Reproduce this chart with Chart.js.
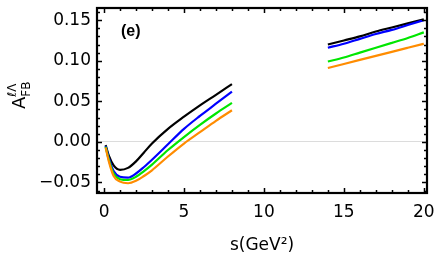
<!DOCTYPE html>
<html>
<head>
<meta charset="utf-8">
<script src="https://cdn.jsdelivr.net/npm/chart.js@4"></script>
<style>
  html, body { margin: 0; padding: 0; background: #fff; }
  canvas { display: block; }
</style>
</head>
<body>
<canvas id="chart" width="436" height="262"></canvas>
<script>
// s values (GeV^2) below and above the charmonium gap
const S_LOW = [0.1, 0.3, 0.6, 1, 1.5, 2, 2.5, 3, 4, 5, 6, 7, 8];
const S_HIGH = [14, 15, 16, 17, 18, 19, 20];

// curves
const BLACK_LOW  = [-0.004, -0.017, -0.029, -0.0345, -0.032, -0.024, -0.013, -0.002, 0.016, 0.031, 0.045, 0.058, 0.0712];
const BLUE_LOW   = [-0.005, -0.020, -0.036, -0.043, -0.044, -0.039, -0.031, -0.022, -0.003, 0.016, 0.032, 0.047, 0.062];
const GREEN_LOW  = [-0.006, -0.022, -0.039, -0.046, -0.047, -0.043, -0.036, -0.028, -0.010, 0.006, 0.021, 0.035, 0.048];
const ORANGE_LOW = [-0.007, -0.024, -0.042, -0.049, -0.051, -0.048, -0.042, -0.035, -0.018, -0.002, 0.012, 0.026, 0.039];

const BLACK_HIGH  = [0.120, 0.125, 0.130, 0.136, 0.141, 0.146, 0.151];
const BLUE_HIGH   = [0.116, 0.121, 0.127, 0.133, 0.138, 0.144, 0.150];
const GREEN_HIGH  = [0.099, 0.104, 0.110, 0.116, 0.122, 0.128, 0.135];
const ORANGE_HIGH = [0.091, 0.096, 0.101, 0.106, 0.111, 0.116, 0.121];

const X_TICKS = [0, 5, 10, 15, 20];
const Y_TICKS = [-0.05, 0, 0.05, 0.10, 0.15];

const FONT = 'DejaVu Sans';

function pts(xs, ys){ return xs.map((x, i) => ({x, y: ys[i]})); }

function line(xs, ys, color){
  return {
    data: pts(xs, ys),
    showLine: true,
    borderColor: color,
    borderWidth: 2.2,
    pointRadius: 0,
    cubicInterpolationMode: 'monotone',
    fill: false
  };
}

const datasets = [
  line(S_LOW, ORANGE_LOW, '#ff8c00'), line(S_HIGH, ORANGE_HIGH, '#ff8c00'),
  line(S_LOW, GREEN_LOW, '#00e600'),  line(S_HIGH, GREEN_HIGH, '#00e600'),
  line(S_LOW, BLUE_LOW, '#0000ff'),   line(S_HIGH, BLUE_HIGH, '#0000ff'),
  line(S_LOW, BLACK_LOW, '#000000'),  line(S_HIGH, BLACK_HIGH, '#000000')
];

// frame, inward ticks, panel label and y title
const framePlugin = {
  id: 'framePlugin',
  afterDraw(chart){
    const {ctx, chartArea: a, scales: {x, y}} = chart;
    ctx.save();
    ctx.strokeStyle = '#000';
    ctx.lineWidth = 1.5;
    ctx.beginPath();
    for (let v = 0; v <= 20; v++) {
      const px = Math.round(x.getPixelForValue(v)) + 0.5;
      const len = v % 5 === 0 ? 5 : 3;
      ctx.moveTo(px, a.bottom); ctx.lineTo(px, a.bottom - len);
      ctx.moveTo(px, a.top); ctx.lineTo(px, a.top + len);
    }
    for (let k = -6; k <= 16; k++) {
      const py = Math.round(y.getPixelForValue(k / 100)) + 0.5;
      const len = k % 5 === 0 ? 5 : 3;
      ctx.moveTo(a.left, py); ctx.lineTo(a.left + len, py);
      ctx.moveTo(a.right, py); ctx.lineTo(a.right - len, py);
    }
    ctx.stroke();

    ctx.lineWidth = 2.2;
    ctx.strokeRect(a.left, a.top, a.right - a.left, a.bottom - a.top);

    // panel label
    ctx.fillStyle = '#000';
    ctx.font = 'bold 16px "Liberation Sans"';
    ctx.textBaseline = 'middle';
    ctx.textAlign = 'left';
    ctx.fillText('(e)', 121, 32);

    // y title  A_FB^{ℓΛ}, rotated
    ctx.translate(25, 109);
    ctx.rotate(-Math.PI / 2);
    ctx.textBaseline = 'alphabetic';
    ctx.font = '18px ' + FONT;
    ctx.fillText('A', 0, 0);
    const w = ctx.measureText('A').width;
    ctx.font = '12px ' + FONT;
    ctx.fillText('FB', w, 5);
    ctx.fillText('ℓΛ', w, -9);
    ctx.restore();
  }
};

new Chart(document.getElementById('chart'), {
  type: 'scatter',
  data: { datasets },
  options: {
    responsive: false,
    animation: false,
    devicePixelRatio: 1,
    layout: { padding: { left: 0, right: 9, top: 8, bottom: 0 } },
    plugins: { legend: { display: false }, tooltip: { enabled: false } },
    scales: {
      x: {
        type: 'linear',
        min: -0.44, max: 20.2,
        afterBuildTicks: s => { s.ticks = X_TICKS.map(v => ({value: v})); },
        afterFit: s => { s.height = 69; s.paddingLeft = 0; s.paddingRight = 0; },
        grid: { display: false, drawTicks: false },
        border: { display: false },
        ticks: {
          color: '#000', padding: 9, maxRotation: 0, autoSkip: false,
          font: { family: FONT, size: 17 },
          callback: v => String(v)
        },
        title: {
          display: true, text: 's(GeV²)', color: '#000',
          font: { family: FONT, size: 17 },
          padding: { top: 0, bottom: 6 }
        }
      },
      y: {
        min: -0.063, max: 0.165,
        afterBuildTicks: s => { s.ticks = Y_TICKS.map(v => ({value: v})); },
        afterFit: s => { s.width = 97; s.paddingTop = 0; s.paddingBottom = 0; },
        grid: {
          drawTicks: false,
          lineWidth: 1,
          color: c => (c.tick && Math.abs(c.tick.value) < 1e-9) ? '#dcdcdc' : 'rgba(0,0,0,0)'
        },
        border: { display: false },
        ticks: {
          color: '#000', padding: 6, autoSkip: false,
          font: { family: FONT, size: 17 },
          callback: v => (v < 0 ? '−' : '') + Math.abs(v).toFixed(2)
        }
      }
    }
  },
  plugins: [framePlugin]
});
</script>
</body>
</html>
